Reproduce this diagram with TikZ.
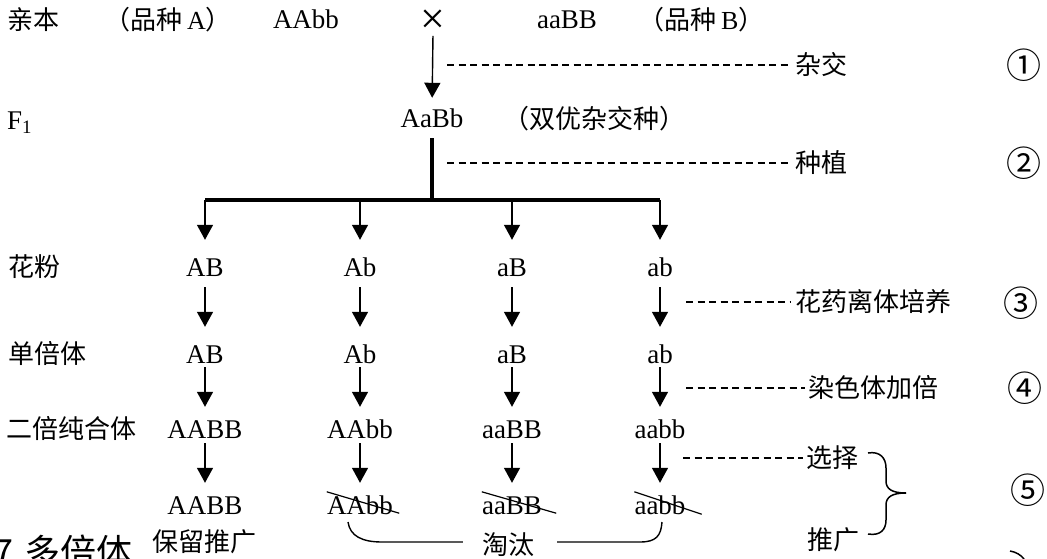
\documentclass[tikz,border=0pt]{standalone}
\usepackage{fontspec}
\setmainfont{Liberation Serif}
\newfontfamily\cjk{Noto Sans CJK SC}
\usetikzlibrary{arrows.meta,calc}
\newcommand\latf{\fontsize{27}{30}\selectfont}
\newcommand\crossf{\fontsize{44}{44}\selectfont}
\newcommand\cjkf{\cjk\fontsize{26}{30}\selectfont}
\newcommand\cirf{\cjk\fontsize{35}{36}\selectfont}
\newcommand\bigf{\cjk\fontsize{36}{40}\selectfont}
\begin{document}
\begin{tikzpicture}[x=1pt,y=-1pt]
\tikzset{
 gene/.style={font=\latf, inner sep=0pt, text height=18pt, text depth=0pt},
 lab/.style={font=\cjkf, inner sep=0pt, anchor=west},
 circ/.style={font=\cirf, inner sep=0pt},
 arr/.style={line width=1.4pt, -{Triangle[width=16pt,length=15pt]}},
 thickln/.style={line width=3.3pt},
 dsh/.style={line width=1.3pt, dash pattern=on 7pt off 4.5pt},
 strike/.style={line width=1.2pt},
 brk/.style={line width=1.4pt},
}
\useasboundingbox (0,0) rectangle (1047,559);
\clip (0,0) rectangle (1047,559);

% row 1
\node[lab] (qinben) at (7,20) {亲本};
\node[lab] (pzA) at (104,20) {（品种\hspace{5pt}{\rmfamily A}）};
\node[gene] (p1) at (306,20) {AAbb};
\node[font=\crossf, inner sep=0pt] (cross) at (433,22) {×};
\node[gene] (p2) at (567,20) {aaBB};
\node[lab] (pzB) at (638,20) {（品种\hspace{5pt}{\rmfamily B}）};

% F1 row
\node[gene, anchor=west] (f1lab) at (7,121) {F\textsubscript{1}};
\node[gene] (f1) at (432,119) {AaBb};
\node[lab] (sy) at (503,119) {（双优杂交种）};

\draw[arr, shorten <=2pt, shorten >=12pt] (cross.south) -- (f1.north);

% bar
\coordinate (hub) at (432,200);
\coordinate (c1) at (205,200);
\coordinate (c2) at (360,200);
\coordinate (c3) at (512,200);
\coordinate (c4) at (660,200);
\draw[thickln, shorten <=10pt] (f1.south) -- (hub);
\draw[thickln] (c1) -- (c4);

% row labels
\node[lab] (hf) at (8,267) {花粉};
\node[lab] (dbt) at (8,354) {单倍体};
\node[lab] (ebt) at (6,429) {二倍纯合体};

% pollen
\node[gene] (pa1) at (205,267) {AB};
\node[gene] (pa2) at (360,267) {Ab};
\node[gene] (pa3) at (512,267) {aB};
\node[gene] (pa4) at (660,267) {ab};
% haploid
\node[gene] (hb1) at (205,354) {AB};
\node[gene] (hb2) at (360,354) {Ab};
\node[gene] (hb3) at (512,354) {aB};
\node[gene] (hb4) at (660,354) {ab};
% diploid
\node[gene] (dd1) at (205,429) {AABB};
\node[gene] (dd2) at (360,429) {AAbb};
\node[gene] (dd3) at (512,429) {aaBB};
\node[gene] (dd4) at (660,429) {aabb};
% final
\node[gene] (fe1) at (205,505) {AABB};
\node[gene] (fe2) at (360,505) {AAbb};
\node[gene] (fe3) at (512,505) {aaBB};
\node[gene] (fe4) at (660,505) {aabb};

\foreach \i in {1,2,3,4}{
  \draw[arr, shorten >=18pt] (c\i) -- (pa\i.north);
  \draw[arr, shorten <=11pt, shorten >=18pt] (pa\i.south) -- (hb\i.north);
  \draw[arr, shorten <=4pt, shorten >=13pt] (hb\i.south) -- (dd\i.north);
  \draw[arr, shorten <=5pt, shorten >=13pt] (dd\i.south) -- (fe\i.north);
}

% strike-throughs
\draw[strike] ($(fe2.north west)+(0,-4)$) -- ($(fe2.south east)+(6,-1)$);
\draw[strike] ($(fe3.north west)+(0,-4)$) -- ($(fe3.south east)+(14,-1)$);
\draw[strike] ($(fe4.north west)+(0,-4)$) -- ($(fe4.south east)+(16,0)$);

% right labels
\node[lab] (zj) at (795,65) {杂交};
\node[lab] (zz) at (795,163) {种植};
\node[lab] (hy) at (795,302) {花药离体培养};
\node[lab] (rs) at (808,388) {染色体加倍};
\node[lab] (xz) at (806,458) {选择};
\node[lab] (tg) at (807,540) {推广};

\coordinate (d1) at (447,65);
\coordinate (d2) at (447,163);
\coordinate (d3) at (686,302);
\coordinate (d4) at (686,388);
\coordinate (d5) at (683,458);
\draw[dsh, shorten >=3pt] (d1) -- (zj.west);
\draw[dsh, shorten >=3pt] (d2) -- (zz.west);
\draw[dsh, shorten >=4pt] (d3) -- (hy.west);
\draw[dsh, shorten >=3pt] (d4) -- (rs.west);
\draw[dsh, shorten >=3pt] (d5) -- (xz.west);

\node[circ] (n1) at (1024,65) {①};
\node[circ] (n2) at (1024,163) {②};
\node[circ] (n3) at (1021,303) {③};
\node[circ] (n4) at (1025,388) {④};
\node[circ] (n5) at (1028,490) {⑤};

% brace
\coordinate (bt) at (868,453);
\coordinate (bm) at (906,493);
\coordinate (bb) at (868,534);
\draw[line width=1.5pt] (bt) .. controls (880,451) and (886,458) .. (886,468) -- (886,481)
  .. controls (886,489) and (892,493) .. (bm);
\draw[line width=1.5pt] (bm) .. controls (892,493) and (886,497) .. (886,505) -- (886,520)
  .. controls (886,530) and (880,536) .. (bb);

% bottom labels
\node[lab] (blt) at (152,542) {保留推广};
\node[font=\cjkf, inner sep=0pt] (tt) at (508,545) {淘汰};
\coordinate (tl) at (348,522);
\coordinate (tla) at (382,542);
\coordinate (tra) at (640,542);
\coordinate (tr) at (662,522);
\draw[brk, shorten >=19pt] (tl) .. controls (350,536) and (362,542) .. (tla) -- (tt.west |- tla);
\draw[brk, shorten <=23pt] (tt.east |- tra) -- (tra) .. controls (656,542) and (661,536) .. (tr);

% clipped fragments at the bottom edge
\node[font=\bigf, inner sep=0pt, anchor=base east] (seven) at (14,565) {7};
\node[font=\bigf, inner sep=0pt, anchor=base west] (dbt2) at (24,565) {多倍体};
\coordinate (fr1) at (1010,551);
\coordinate (fr2) at (1024,559);
\draw[line width=1.5pt] (fr1) .. controls (1016,552) and (1021,555) .. (fr2);
\end{tikzpicture}
\end{document}
